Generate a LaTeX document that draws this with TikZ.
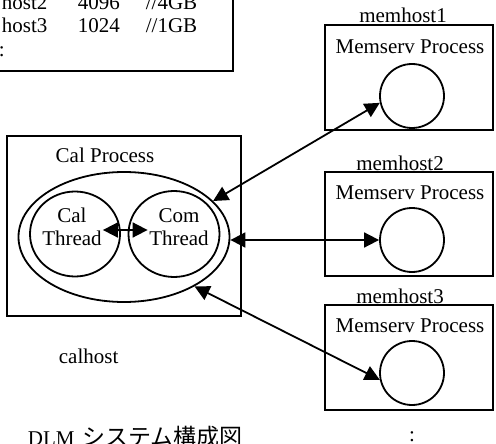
\documentclass[tikz,border=0pt]{standalone}
\usepackage{fontspec}
\setmainfont{Liberation Serif}
\newfontfamily\jpfont{Noto Sans CJK JP}
\usetikzlibrary{arrows.meta,calc,shapes.geometric}

\begin{document}
\begin{tikzpicture}[x=1pt,y=-1pt,line width=1.8pt,
  txt/.style={font=\fontsize{21}{23}\selectfont,inner sep=0pt,anchor=base west},
  ctxt/.style={font=\fontsize{21}{23}\selectfont,inner sep=0pt,anchor=base},
  host/.style={draw},
  proc/.style={draw,circle,minimum size=64pt,inner sep=0pt},
  thr/.style={draw,ellipse,minimum width=91pt,minimum height=86pt,inner sep=0pt},
  dbl/.style={{Triangle[length=15pt,width=15pt]}-{Triangle[length=15pt,width=15pt]}}]
\useasboundingbox (0,0) rectangle (496,444);
\clip (0,0) rectangle (496,444);

% configuration listing (top left)
\draw[host] (-20,-20) rectangle (233,71);
\node[txt] (h2) at (1,10) {host2};
\node[txt] (m2) at (77,10) {4096};
\node[txt] (g2) at (145,10) {//4GB};
\node[txt] (h3) at (1,33) {host3};
\node[txt] (m3) at (77,33) {1024};
\node[txt] (g3) at (145,33) {//1GB};
\node[txt] (dots1) at (-2,57) {:};

% memory hosts
\draw[host] (325,25) rectangle (493,130);
\node[ctxt] (l1) at (403,23) {memhost1};
\node[ctxt] (p1) at (410,54) {Memserv Process};
\node[proc] (c1) at (412,96) {};

\draw[host] (325,172) rectangle (493,276);
\node[ctxt] (l2) at (400,170) {memhost2};
\node[ctxt] (p2) at (410,199) {Memserv Process};
\node[proc] (c2) at (412,240) {};

\draw[host] (325,305) rectangle (493,410);
\node[ctxt] (l3) at (400,303) {memhost3};
\node[ctxt] (p3) at (410,332) {Memserv Process};
\node[proc] (c3) at (412,373) {};

\node[ctxt] (dots2) at (412,441) {:};

% calculation host
\draw[host] (7,136) rectangle (241,316);
\node[ctxt] (cp) at (105,163) {Cal Process};
\node[draw,ellipse,minimum width=211pt,minimum height=130pt,inner sep=0pt] (outer) at (124,237) {};
\node[thr,minimum width=90pt,minimum height=85pt] (cal) at (75,234) {};
\node[thr] (com) at (174,234) {};
\node[ctxt] (calt) at (72,222) {Cal};
\node[ctxt] (calt2) at (72,245) {Thread};
\node[ctxt] (comt) at (179,222) {Com};
\node[ctxt] (comt2) at (179,245) {Thread};
\node[txt] (ch) at (58,363) {calhost};

% thread link
\draw[dbl] ([xshift=-18pt,yshift=4pt]cal.east) -- ([xshift=20pt,yshift=4pt]com.west);

% links to the memory servers
\draw[dbl] (outer.22) -- (c1.192);
\draw[dbl] (c2.west -| outer.east) -- (c2.west);
\draw[dbl] (outer.-35) -- (c3.192);

% caption
\node[txt] (cap) at (27,445) {DLM\hspace{8pt}{\jpfont\fontsize{23}{24}\selectfont システム構成図}};
\end{tikzpicture}
\end{document}
